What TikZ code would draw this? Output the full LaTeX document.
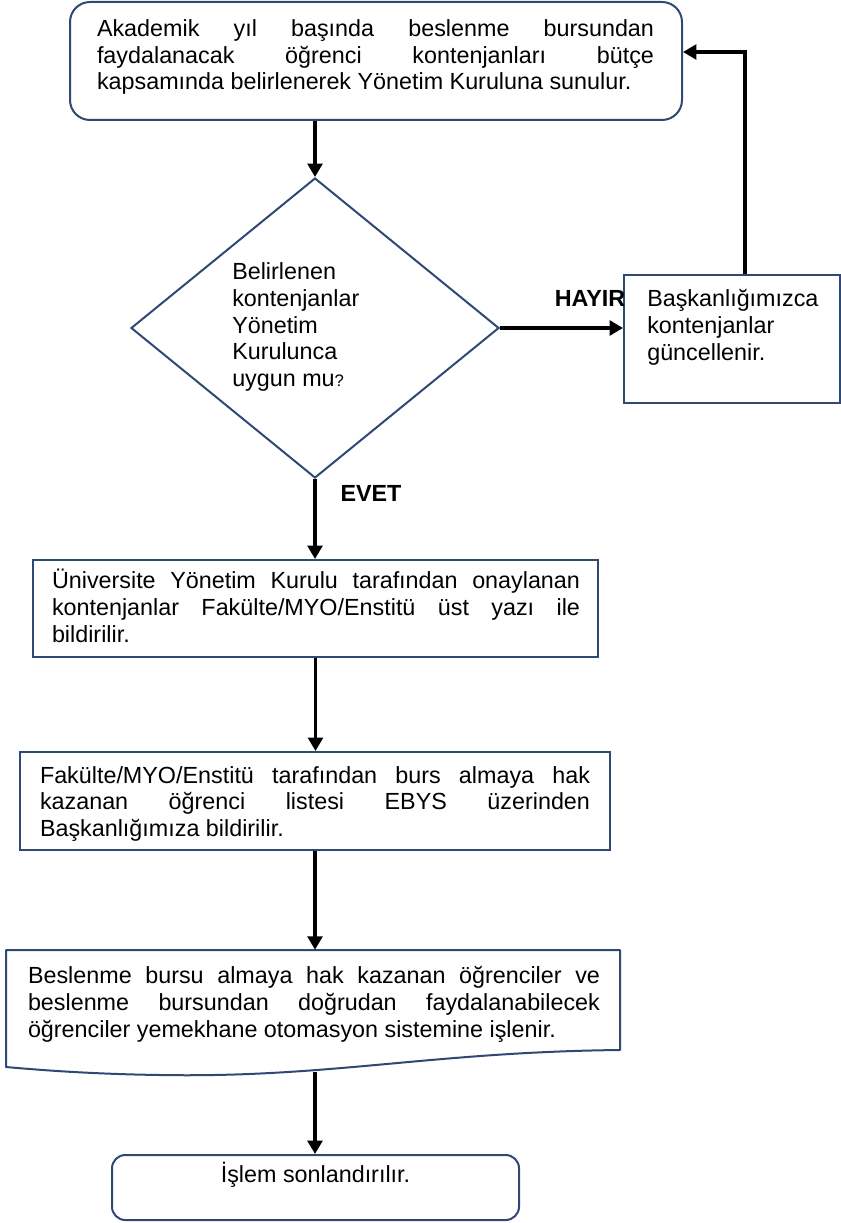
\documentclass[tikz,border=0pt]{standalone}
\usepackage{fontspec}
\setmainfont{Liberation Sans}
\usetikzlibrary{shapes.geometric,arrows.meta}
\definecolor{boxblue}{RGB}{47,72,116}
\begin{document}
\begin{tikzpicture}[x=0.75pt,y=-0.75pt,
  box/.style={draw=boxblue, line width=1.5pt, inner sep=0pt, fill=white, rectangle},
  rbox/.style={box, rounded corners=15pt},
  txt/.style={font=\fontsize{17.5}{20.2}\selectfont, inner sep=0pt},
  lbl/.style={font=\fontsize{17.5}{20}\selectfont\bfseries, inner sep=0pt},
  arr/.style={line width=2.6pt, -{Triangle[length=10pt,width=11pt]}}]
\useasboundingbox (0,0) rectangle (841,1223);

% shapes
\node[rbox, minimum width=459pt, minimum height=88.5pt] (top) at (376,61) {};
\node[diamond, draw=boxblue, line width=1.5pt, inner sep=0pt, aspect=1.2267,
      minimum width=276pt, minimum height=225pt] (dia) at (315,328) {};
\node[box, minimum width=162pt, minimum height=96pt] (rb) at (732,339) {};
\node[box, minimum width=423.75pt, minimum height=72.75pt] (b2) at (315.5,608.5) {};
\node[box, minimum width=442.5pt, minimum height=73.5pt] (b3) at (315,801) {};
\node[rectangle, inner sep=0pt, minimum width=460.5pt, minimum height=75pt] (doc) at (313,1000) {};
\draw[draw=boxblue, line width=1.5pt, fill=white, line join=round]
  (6,950) -- (620,950) -- (620,1050)
  .. controls (430,1052) and (330,1078) .. (160,1075)
  .. controls (90,1074) and (40,1070) .. (6,1067) -- cycle;
\coordinate (docb) at (315,1072);
\node[box, rounded corners=10pt, minimum width=305.25pt, minimum height=48.75pt] (end) at (315.5,1187.5) {};
\coordinate (corner) at (745,52);

% texts
\node[txt, text width=417.75pt, align=justify] at (375.5,57)
  {Akademik yıl başında beslenme bursundan\linebreak faydalanacak öğrenci kontenjanları bütçe\linebreak kapsamında belirlenerek Yönetim Kuruluna sunulur.};
\node[txt, anchor=west, align=left] at (232,327)
  {Belirlenen\\kontenjanlar\\Yönetim\\Kurulunca\\uygun mu{\fontsize{12.5}{14}\selectfont ?}};
\node[txt, anchor=west, align=left] at (647,327)
  {Başkanlığımızca\\kontenjanlar\\güncellenir.};
\node[lbl] (hayir) at (590,298) {HAYIR};
\node[lbl] (evet) at (371,493) {EVET};
\node[txt, text width=396pt, align=justify] at (316,606)
  {Üniversite Yönetim Kurulu tarafından onaylanan\linebreak kontenjanlar Fakülte/MYO/Enstitü üst yazı ile\linebreak bildirilir.};
\node[txt, text width=412.5pt, align=justify] at (315,804)
  {Fakülte/MYO/Enstitü tarafından burs almaya hak\linebreak kazanan öğrenci listesi EBYS üzerinden\linebreak Başkanlığımıza bildirilir.};
\node[txt, text width=429pt, align=justify] at (314,1004)
  {Beslenme bursu almaya hak kazanan öğrenciler ve\linebreak beslenme bursundan doğrudan faydalanabilecek\linebreak öğrenciler yemekhane otomasyon sistemine işlenir.};
\node[txt] at (315.5,1175) {İşlem sonlandırılır.};

% connectors
\draw[arr] (top.south -| dia.north) -- (dia.north);
\draw[arr] (dia.east) -- (dia.east -| rb.west);
\draw[arr] (rb.north -| corner) -- (corner) -- (top.east |- corner);
\draw[arr] (dia.south) -- (dia.south |- b2.north);
\draw[arr] (b2.south) -- (b2.south |- b3.north);
\draw[arr] (b3.south) -- (b3.south |- doc.north);
\draw[arr] (docb) -- (docb |- end.north);
\end{tikzpicture}
\end{document}
